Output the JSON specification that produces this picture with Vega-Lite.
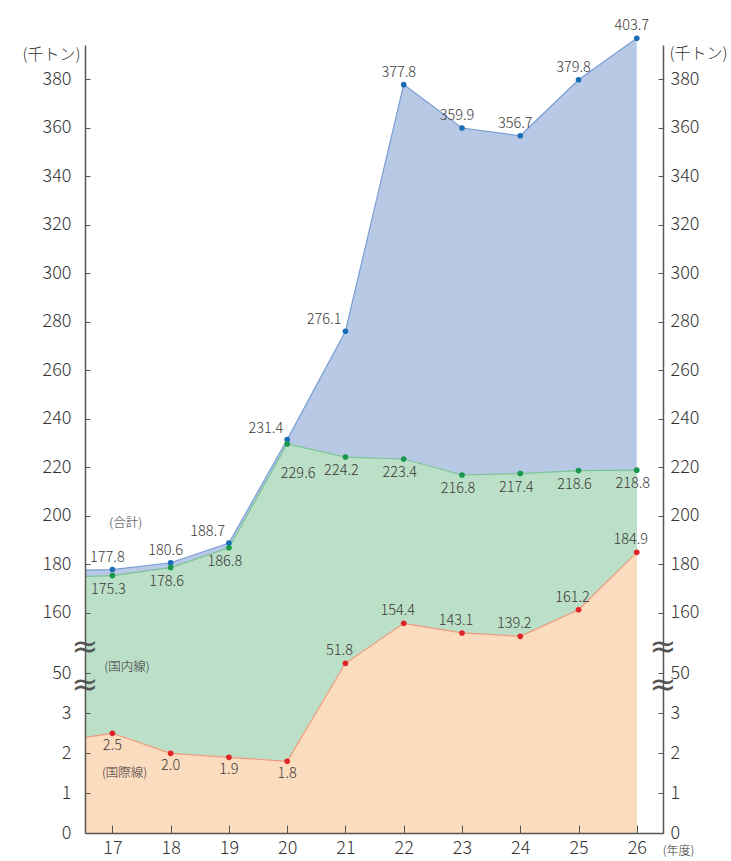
{
  "$schema": "https://vega.github.io/schema/vega-lite/v6.json",
  "width": 578,
  "height": 788,
  "autosize": {"type": "none"},
  "padding": {"left": 85, "top": 45, "right": 68, "bottom": 28},
  "config": {"view": {"stroke": null}, "font": "Noto Sans CJK JP", "text": {"font": "Noto Sans CJK JP", "fontWeight": 300}},
  "datasets": {
    "main": [
      {"year": 16.53, "series": "合計", "value": 177.6},
      {"year": 16.53, "series": "国内線", "value": 175.0},
      {"year": 16.53, "series": "国際線", "value": 2.4},
      {"year": 17, "series": "合計", "value": 177.8},
      {"year": 17, "series": "国内線", "value": 175.3},
      {"year": 17, "series": "国際線", "value": 2.5},
      {"year": 18, "series": "合計", "value": 180.6},
      {"year": 18, "series": "国内線", "value": 178.6},
      {"year": 18, "series": "国際線", "value": 2.0},
      {"year": 19, "series": "合計", "value": 188.7},
      {"year": 19, "series": "国内線", "value": 186.8},
      {"year": 19, "series": "国際線", "value": 1.9},
      {"year": 20, "series": "合計", "value": 231.4},
      {"year": 20, "series": "国内線", "value": 229.6},
      {"year": 20, "series": "国際線", "value": 1.8},
      {"year": 21, "series": "合計", "value": 276.1},
      {"year": 21, "series": "国内線", "value": 224.2},
      {"year": 21, "series": "国際線", "value": 51.8},
      {"year": 22, "series": "合計", "value": 377.8},
      {"year": 22, "series": "国内線", "value": 223.4},
      {"year": 22, "series": "国際線", "value": 154.4},
      {"year": 23, "series": "合計", "value": 359.9},
      {"year": 23, "series": "国内線", "value": 216.8},
      {"year": 23, "series": "国際線", "value": 143.1},
      {"year": 24, "series": "合計", "value": 356.7},
      {"year": 24, "series": "国内線", "value": 217.4},
      {"year": 24, "series": "国際線", "value": 139.2},
      {"year": 25, "series": "合計", "value": 379.8},
      {"year": 25, "series": "国内線", "value": 218.6},
      {"year": 25, "series": "国際線", "value": 161.2},
      {"year": 26, "series": "合計", "value": 403.7},
      {"year": 26, "series": "国内線", "value": 218.8},
      {"year": 26, "series": "国際線", "value": 184.9}
    ],
    "notes": [
      {"year": 17.23, "value": 197.1, "label": "(合計)"},
      {"year": 17.25, "value": 51.2, "label": "(国内線)"},
      {"year": 17.21, "value": 1.52, "label": "(国際線)"}
    ],
    "breaks": [
      {"year": 16.53, "value": 105.5},
      {"year": 16.53, "value": 36.3},
      {"year": 26.45, "value": 105.5},
      {"year": 26.45, "value": 36.3}
    ]
  },
  "encoding": {
    "x": {"field": "year", "type": "quantitative", "scale": {"domain": [16.53, 26.45], "nice": false, "zero": false}, "axis": null},
    "y": {"field": "value", "type": "quantitative", "scale": {"domain": [0, 3, 50, 51.8, 139.2, 154.4, 160, 380, 399.8], "range": [788.3, 668.3, 628.3, 618.3, 591.3, 578.3, 567.7, 34.3, 0], "nice": false, "zero": false}, "axis": null}
  },
  "layer": [
    {
      "data": {"name": "main"},
      "transform": [{"filter": "datum.series === '合計'"}],
      "mark": {"type": "area", "color": "#b7c9e5", "opacity": 1, "line": {"color": "#7a9fd4", "strokeWidth": 1.2}},
      "encoding": {
        "x": {"field": "year", "type": "quantitative", "scale": {"domain": [16.53, 26.45], "nice": false, "zero": false},
          "axis": {"orient": "bottom", "values": [17, 18, 19, 20, 21, 22, 23, 24, 25, 26], "format": "d", "grid": false, "zindex": 1,
            "labelFontSize": 18, "labelFontWeight": 300, "labelColor": "#333", "labelPadding": 14, "labelFlush": false, "labelOverlap": false,
            "tickSize": -8, "tickColor": "#555", "domainColor": "#555", "domainWidth": 1.5,
            "title": "(年度)", "titleFontSize": 12, "titleFontWeight": 300, "titleColor": "#333", "titleX": 593, "titleY": 17, "titleAlign": "center", "titleBaseline": "middle", "titleAnchor": null}},
        "y": {"field": "value", "type": "quantitative", "scale": {"domain": [0, 3, 50, 51.8, 139.2, 154.4, 160, 380, 399.8], "range": [788.3, 668.3, 628.3, 618.3, 591.3, 578.3, 567.7, 34.3, 0], "nice": false, "zero": false},
          "axis": {"orient": "left", "values": [0, 1, 2, 3, 50, 160, 180, 200, 220, 240, 260, 280, 300, 320, 340, 360, 380], "grid": false, "zindex": 1,
            "labelFontSize": 18, "labelFontWeight": 300, "labelColor": "#333", "labelPadding": 19, "labelFlush": false, "labelOverlap": false,
            "tickSize": -5, "tickColor": "#555", "domainColor": "#555", "domainWidth": 1.5,
            "title": "(千トン)", "titleAngle": 0, "titleAlign": "right", "titleBaseline": "middle", "titleX": -5, "titleY": 9, "titleFontSize": 16, "titleFontWeight": 300, "titleColor": "#333"}}
      }
    },
    {
      "data": {"name": "main"},
      "transform": [{"filter": "datum.series === '国内線'"}],
      "mark": {"type": "area", "color": "#bcdfc7", "opacity": 1, "line": {"color": "#7cc495", "strokeWidth": 1.2}},
      "encoding": {
        "y": {"field": "value", "type": "quantitative", "scale": {"domain": [0, 3, 50, 51.8, 139.2, 154.4, 160, 380, 399.8], "range": [788.3, 668.3, 628.3, 618.3, 591.3, 578.3, 567.7, 34.3, 0], "nice": false, "zero": false},
          "axis": {"orient": "right", "values": [0, 1, 2, 3, 50, 160, 180, 200, 220, 240, 260, 280, 300, 320, 340, 360, 380], "grid": false, "zindex": 1,
            "labelFontSize": 18, "labelFontWeight": 300, "labelColor": "#333", "labelPadding": 12, "labelFlush": false, "labelOverlap": false,
            "tickSize": -5, "tickColor": "#555", "domainColor": "#555", "domainWidth": 1.5,
            "title": "(千トン)", "titleAngle": 0, "titleAlign": "left", "titleBaseline": "middle", "titleX": 6, "titleY": 8, "titleFontSize": 16, "titleFontWeight": 300, "titleColor": "#333"}}
      }
    },
    {
      "data": {"name": "main"},
      "transform": [{"filter": "datum.series === '国際線'"}],
      "mark": {"type": "area", "color": "#fcdcbe", "opacity": 1, "line": {"color": "#ef9a7f", "strokeWidth": 1.2}}
    },
    {
      "data": {"name": "main"},
      "transform": [{"filter": "datum.year >= 17"}],
      "mark": {"type": "circle", "size": 32, "opacity": 1},
      "encoding": {
        "color": {"field": "series", "type": "nominal", "scale": {"domain": ["合計", "国内線", "国際線"], "range": ["#1a6db5", "#17984a", "#e0232b"]}, "legend": null}
      }
    },
    {
      "data": {"name": "main"},
      "transform": [{"filter": "datum.series === '合計' && datum.year >= 19 && datum.year <= 21"}],
      "mark": {"type": "text", "align": "right", "baseline": "middle", "dx": -4, "dy": -11, "fontSize": 14.5, "color": "#3a3a3a"},
      "encoding": {"text": {"field": "value", "type": "quantitative", "format": ".1f"}}
    },
    {
      "data": {"name": "main"},
      "transform": [{"filter": "datum.series === '合計' && datum.year >= 17 && (datum.year < 19 || datum.year > 21)"}],
      "mark": {"type": "text", "align": "center", "baseline": "middle", "dx": -5, "dy": -12, "fontSize": 14.5, "color": "#3a3a3a"},
      "encoding": {"text": {"field": "value", "type": "quantitative", "format": ".1f"}}
    },
    {
      "data": {"name": "main"},
      "transform": [{"filter": "datum.series === '国内線' && datum.year >= 17 && datum.year !== 20"}],
      "mark": {"type": "text", "align": "center", "baseline": "middle", "dx": -4, "dy": 14, "fontSize": 14.5, "color": "#3a3a3a"},
      "encoding": {"text": {"field": "value", "type": "quantitative", "format": ".1f"}}
    },
    {
      "data": {"name": "main"},
      "transform": [{"filter": "datum.series === '国内線' && datum.year === 20"}],
      "mark": {"type": "text", "align": "center", "baseline": "middle", "dx": 11, "dy": 30, "fontSize": 14.5, "color": "#3a3a3a"},
      "encoding": {"text": {"field": "value", "type": "quantitative", "format": ".1f"}}
    },
    {
      "data": {"name": "main"},
      "transform": [{"filter": "datum.series === '国際線' && datum.year >= 17 && datum.year <= 20"}],
      "mark": {"type": "text", "align": "center", "baseline": "middle", "dx": 0, "dy": 13, "fontSize": 14.5, "color": "#3a3a3a"},
      "encoding": {"text": {"field": "value", "type": "quantitative", "format": ".1f"}}
    },
    {
      "data": {"name": "main"},
      "transform": [{"filter": "datum.series === '国際線' && datum.year >= 21"}],
      "mark": {"type": "text", "align": "center", "baseline": "middle", "dx": -6, "dy": -12, "fontSize": 14.5, "color": "#3a3a3a"},
      "encoding": {"text": {"field": "value", "type": "quantitative", "format": ".1f"}}
    },
    {
      "data": {"name": "notes"},
      "mark": {"type": "text", "align": "center", "baseline": "middle", "fontSize": 12.5, "color": "#333"},
      "encoding": {"text": {"field": "label", "type": "nominal"}}
    },
    {
      "data": {"name": "breaks"},
      "mark": {"type": "text", "text": "≈", "align": "center", "baseline": "middle", "fontSize": 32, "font": "DejaVu Sans", "fontWeight": "normal", "color": "#555"}
    }
  ],
  "resolve": {"axis": {"x": "independent", "y": "independent"}}
}
